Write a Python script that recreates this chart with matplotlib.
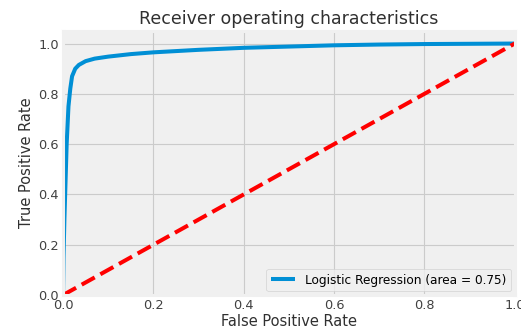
import numpy as np
import matplotlib
matplotlib.use("Agg")
import matplotlib.pyplot as plt

# roc curve
fpr = [0.0, 0.001, 0.003, 0.005, 0.008, 0.012, 0.016, 0.02, 0.027, 0.035, 0.05,
       0.07, 0.1, 0.15, 0.2, 0.3, 0.4, 0.5, 0.6, 0.7, 0.8, 0.9, 1.0]
tpr = [0.0, 0.15, 0.3, 0.42, 0.6, 0.75, 0.82, 0.87, 0.9, 0.915, 0.93,
       0.94, 0.948, 0.958, 0.965, 0.975, 0.983, 0.988, 0.993, 0.996, 0.998, 0.999, 1.0]
chance = [0.0, 1.0]
roc_auc = 0.75

plt.style.use('fivethirtyeight')
plt.rcParams['font.family'] = ['DejaVu Sans']

fig = plt.figure(figsize=(5.21, 3.33), dpi=100, facecolor='white')
ax = fig.add_axes([0.121, 0.114, 0.867, 0.793])
ax.plot(fpr, tpr, color='#008fd5', linewidth=2.9,
        label='Logistic Regression (area = %0.2f)' % roc_auc)
ax.plot(chance, chance, 'r--', linewidth=2.9)
ax.set_xlim([0.0, 1.0])
ax.set_ylim([0.0, 1.05])
ax.set_xlabel('False Positive Rate', fontsize=10.5, color='#303030', labelpad=1)
ax.set_ylabel('True Positive Rate', fontsize=10.5, color='#303030', labelpad=3)
ax.set_title('Receiver operating characteristics', fontsize=12.5, color='#303030', pad=5)
ax.tick_params(labelsize=9.3, labelcolor='#404040', pad=3)
for s in ax.spines.values():
    s.set_linewidth(2.2)
ax.grid(linewidth=0.8, color='#cbcbcb')
ax.legend(loc='lower right', fontsize=8.7, handlelength=2.0,
          borderaxespad=0.3)

fig.savefig('out.png', dpi=100, facecolor='white')
